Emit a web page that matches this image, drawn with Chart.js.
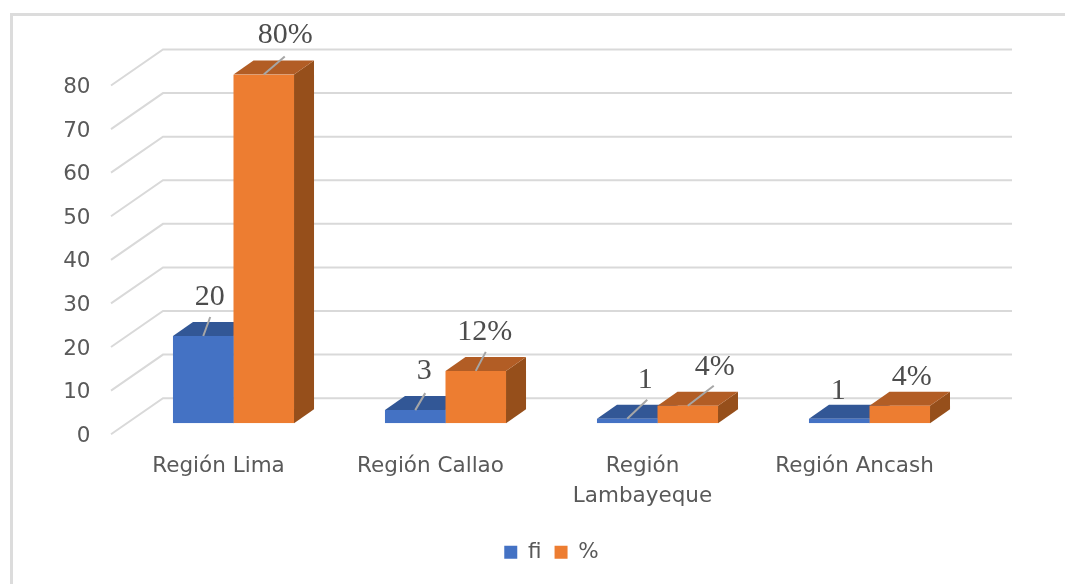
<!DOCTYPE html>
<html>
<head>
<meta charset="utf-8">
<title>Regiones</title>
<script src="https://cdn.jsdelivr.net/npm/chart.js@4"></script>
<style>
  html, body { margin: 0; padding: 0; background: #fff; overflow: hidden; }
  #frame {
    position: absolute; left: 10px; top: 13px; right: 0; bottom: 0;
    border-left: 3px solid #dcdcdc; border-top: 3px solid #dcdcdc;
  }
  canvas { position: absolute; left: 0; top: 0; }
</style>
</head>
<body>
<div id="frame"></div>
<canvas id="chart" width="1065" height="584"></canvas>
<script>
const categories = ['Región Lima', 'Región Callao', ['Región', 'Lambayeque'], 'Región Ancash'];
const fiValues = [20, 3, 1, 1];
const pctValues = [80, 12, 4, 4];
const yTicks = [0, 10, 20, 30, 40, 50, 60, 70, 80];

// label and leader offsets from the centre of each bar's top edge
const fiLabelShift = [[6.5, -39], [9, -39], [18, -39], [-1, -28]];
const pctLabelShift = [[21.5, -39], [9, -39], [27, -39], [12, -29]];
const fiLeader = [[7, -19], [10, -17], [20, -19], null];
const pctLeader = [[21, -18], [10, -19], [26, -20], null];

const depth = { x: 20, y: -14 };
const wall = { frontX: -16.5, frontY: 11, backX: 35.5, backY: -25, right: 36.5 };

const colors = [
  { front: '#4472c4', top: '#325796', side: '#264478' },
  { front: '#ed7d31', top: '#b25d25', side: '#964f1b' }
];
const textFont = '"DejaVu Sans", sans-serif';

function polygon(ctx, points, fill) {
  ctx.beginPath();
  ctx.moveTo(points[0][0], points[0][1]);
  for (let i = 1; i < points.length; i++) {
    ctx.lineTo(points[i][0], points[i][1]);
  }
  ctx.closePath();
  ctx.fillStyle = fill;
  ctx.fill();
}

const walls = {
  id: 'walls',
  beforeDatasetsDraw(chart) {
    let ctx = chart.ctx;
    let area = chart.chartArea;
    let yScale = chart.scales.y;

    ctx.save();
    ctx.strokeStyle = '#d9d9d9';
    ctx.lineWidth = 2;
    yTicks.forEach((tick) => {
      let y = yScale.getPixelForValue(tick);
      ctx.beginPath();
      ctx.moveTo(area.left + wall.frontX, y + wall.frontY);
      ctx.lineTo(area.left + wall.backX, y + wall.backY);
      ctx.lineTo(area.right + wall.right, y + wall.backY);
      ctx.stroke();
    });

    // top and side faces go under the fronts that chart.js draws
    chart.data.datasets.forEach((dataset, d) => {
      chart.getDatasetMeta(d).data.forEach((bar) => {
        let left = bar.x - bar.width / 2;
        let right = bar.x + bar.width / 2;
        polygon(ctx, [[right, bar.y], [right + depth.x, bar.y + depth.y],
          [right + depth.x, bar.base + depth.y], [right, bar.base]], colors[d].side);
        polygon(ctx, [[left, bar.y], [left + depth.x, bar.y + depth.y],
          [right + depth.x, bar.y + depth.y], [right, bar.y]], colors[d].top);
      });
    });
    ctx.restore();
  }
};

const barLabels = {
  id: 'barLabels',
  afterDatasetsDraw(chart) {
    let ctx = chart.ctx;
    let shifts = [fiLabelShift, pctLabelShift];
    let leaders = [fiLeader, pctLeader];
    let suffix = ['', '%'];

    ctx.save();
    ctx.textAlign = 'center';
    ctx.textBaseline = 'middle';
    ctx.font = '30px "Liberation Serif", serif';
    chart.data.datasets.forEach((dataset, d) => {
      chart.getDatasetMeta(d).data.forEach((bar, i) => {
        let leader = leaders[d][i];
        if (leader) {
          ctx.strokeStyle = '#a6a6a6';
          ctx.lineWidth = 2;
          ctx.beginPath();
          ctx.moveTo(bar.x, bar.y);
          ctx.lineTo(bar.x + leader[0], bar.y + leader[1]);
          ctx.stroke();
        }
        ctx.fillStyle = '#4d4d4d';
        ctx.fillText(dataset.data[i] + suffix[d], bar.x + shifts[d][i][0], bar.y + shifts[d][i][1]);
      });
    });
    ctx.restore();
  }
};

new Chart(document.getElementById('chart').getContext('2d'), {
  type: 'bar',
  data: {
    labels: categories,
    datasets: [
      { label: 'fi', data: fiValues, backgroundColor: colors[0].front },
      { label: '%', data: pctValues, backgroundColor: colors[1].front }
    ]
  },
  options: {
    responsive: false,
    animation: false,
    categoryPercentage: 0.571,
    barPercentage: 1,
    layout: { padding: { top: 74.5, right: 89.5, bottom: 11, left: 0 } },
    scales: {
      x: {
        grid: { display: false },
        border: { display: false },
        afterFit(scale) { scale.height = 105.3; },
        ticks: {
          autoSkip: false,
          maxRotation: 0,
          padding: 20.5,
          labelOffset: -15,
          color: '#595959',
          font: { family: textFont, size: 21.5, lineHeight: 1.395 }
        }
      },
      y: {
        min: 0,
        max: 80,
        grid: { display: false },
        border: { display: false },
        afterBuildTicks(scale) { scale.ticks = yTicks.map((value) => ({ value })); },
        afterFit(scale) { scale.width = 127.5; },
        ticks: {
          padding: 29,
          labelOffset: 13,
          color: '#595959',
          font: { family: textFont, size: 21.5 }
        }
      }
    },
    plugins: {
      tooltip: { enabled: false },
      legend: {
        position: 'bottom',
        fullSize: false, // centres the legend under the plot, as in the original
        labels: {
          boxWidth: 13,
          boxHeight: 13,
          padding: 13,
          color: '#595959',
          font: { family: textFont, size: 21.5 }
        }
      }
    }
  },
  plugins: [walls, barLabels]
});
</script>
</body>
</html>
